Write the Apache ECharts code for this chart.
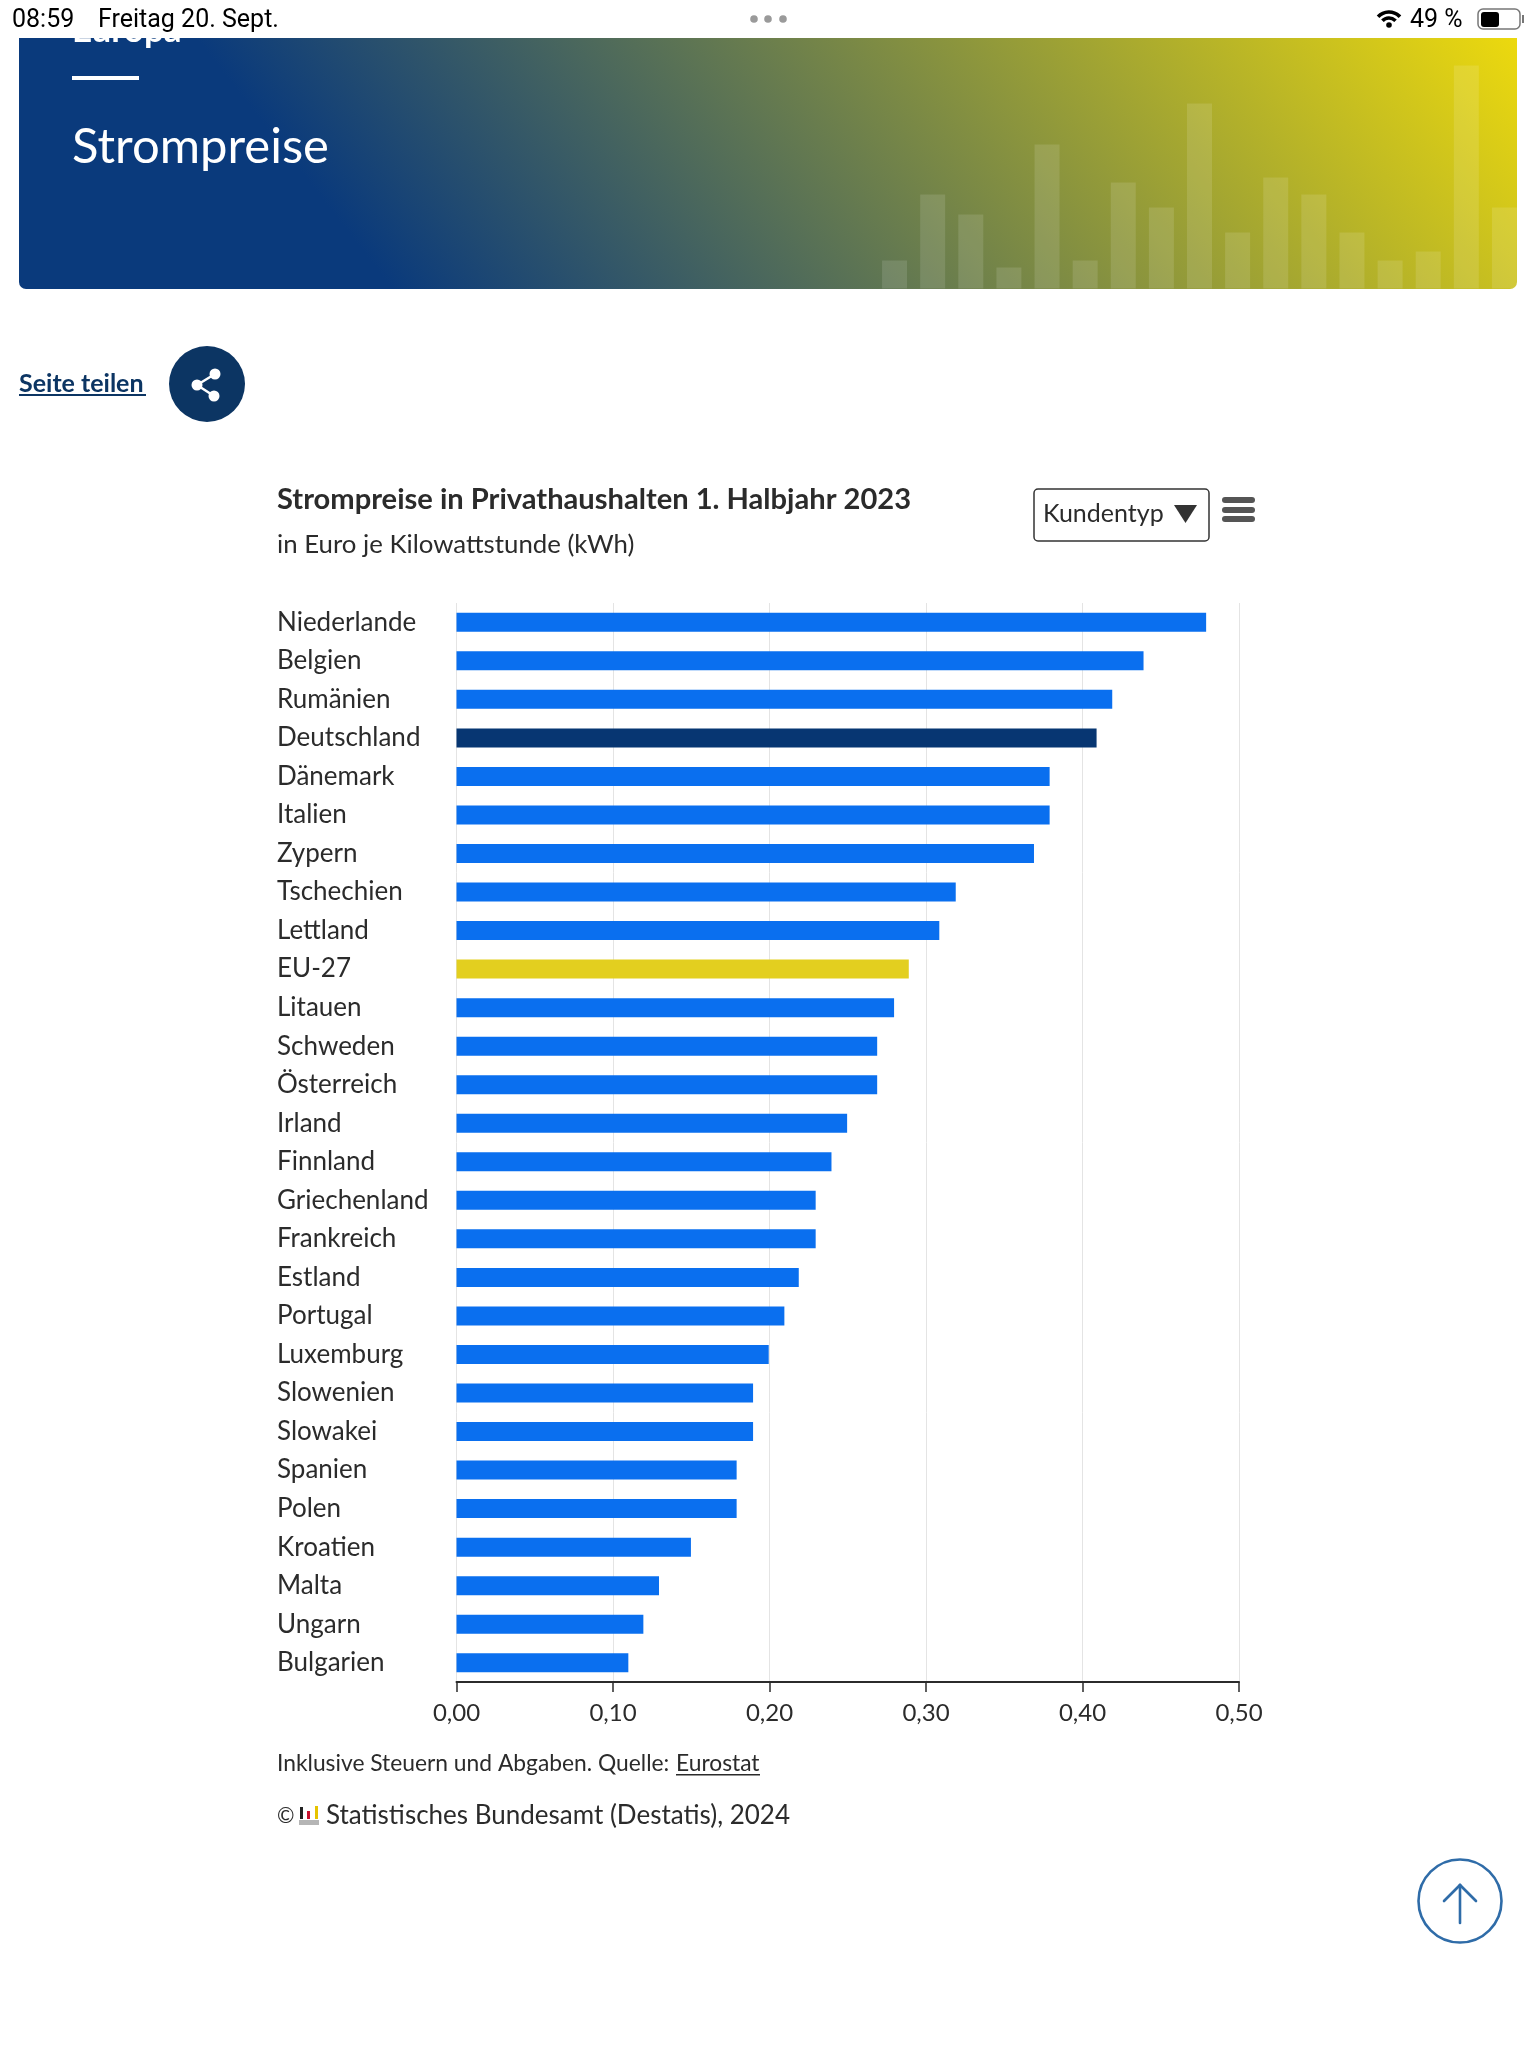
<!DOCTYPE html>
<html lang="de"><head><meta charset="utf-8"><title>Strompreise</title>
<style>html,body{margin:0;padding:0;background:#fff}#c{width:1536px;height:2048px}</style>
<script src="https://cdn.jsdelivr.net/npm/echarts@6/dist/echarts.min.js"></script></head>
<body><div id="c"></div>
<script>
const countries = ["Niederlande","Belgien","Rumänien","Deutschland","Dänemark","Italien","Zypern","Tschechien","Lettland","EU-27","Litauen","Schweden","Österreich","Irland","Finnland","Griechenland","Frankreich","Estland","Portugal","Luxemburg","Slowenien","Slowakei","Spanien","Polen","Kroatien","Malta","Ungarn","Bulgarien"];
const prices = [0.479,0.439,0.419,0.409,0.379,0.379,0.369,0.319,0.3085,0.289,0.2796,0.2688,0.2688,0.2496,0.2396,0.2295,0.2295,0.2187,0.2095,0.1995,0.1895,0.1895,0.179,0.179,0.1498,0.1294,0.1194,0.1098];
const bannerBarValues = [28,94,74,21,144,28,106,81,185,56,111,94,56,28,37,223,81];
const bannerBarSlots = bannerBarValues.map((_, i) => i + 1);
const highlightColors = {"Deutschland":"#073672","EU-27":"#e3cf1f"};
const BAR = "#0a6fef", NAVY = "#0c3563", TXT = "#2b2b2b", F = "Lato, 'Noto Sans', sans-serif", SYS = "Roboto, 'Liberation Sans', sans-serif";

const t = (x, y, text, size, o = {}) => ({type:"text", z:o.z||10, x, y, style:{text, fontSize:size, fontFamily:o.family||F, fontWeight:o.weight||"normal", fill:o.fill||TXT, align:o.align||"left", verticalAlign:"middle"}});
const r = (x, y, width, height, fill, z = 10, radius = 0) => ({type:"rect", z, shape:{x, y, width, height, r:radius}, style:{fill}});
const line = (x1, y1, x2, y2, stroke, lineWidth, z = 10) => ({type:"line", z, shape:{x1,y1,x2,y2}, style:{stroke, lineWidth, lineCap:"round"}});
const circle = (cx, cy, radius, style, z = 10) => ({type:"circle", z, shape:{cx, cy, r:radius}, style});
const arc = (cx, cy, radius) => ({type:"arc", z:10, shape:{cx, cy, r:radius, startAngle:-Math.PI*0.76, endAngle:-Math.PI*0.24}, style:{stroke:"#000", lineWidth:3.6, fill:null, lineCap:"butt"}});

const graphics = [
  {type:"rect", z:0, shape:{x:19, y:20, width:1498, height:269, r:7},
   style:{fill:{type:"linear", global:true, x:196, y:38, x2:1014, y2:-603,
     colorStops:[{offset:0,color:"#0a3a7c"},{offset:1,color:"#ecd90e"}]}}},
  t(72, 31, "Europa", 35, {fill:"#fff", weight:"bold", z:1}),
  r(0, 0, 1536, 38, "#fff", 5),
  r(72, 76, 67, 4, "#fff"),
  t(72, 147, "Strompreise", 49, {fill:"#fff"}),
  t(12, 21, "08:59", 25, {family:SYS, fill:"#000"}),
  t(98, 21, "Freitag 20. Sept.", 25, {family:SYS, fill:"#000"}),
  circle(754, 19, 3.8, {fill:"#9a9a9a"}), circle(768, 19, 3.8, {fill:"#9a9a9a"}), circle(783, 19, 3.8, {fill:"#9a9a9a"}),
  arc(1389, 27, 15), arc(1389, 27, 9), circle(1389, 25, 2.8, {fill:"#000"}),
  t(1410, 21, "49 %", 25, {family:SYS, fill:"#000"}),
  {type:"rect", z:10, shape:{x:1478, y:9, width:42, height:20, r:5}, style:{fill:"#fff", stroke:"#777", lineWidth:1.5}},
  r(1481, 12, 18, 15, "#000", 11, 3),
  r(1522, 15, 2, 8, "#777"),
  t(19, 384, "Seite teilen", 25, {fill:NAVY, weight:"bold"}),
  r(19, 394, 127, 2, NAVY),
  circle(207, 384, 38, {fill:NAVY}),
  line(197, 385, 215, 374, "#fff", 2.5, 11), line(197, 385, 214, 396, "#fff", 2.5, 11),
  circle(197, 385, 5.5, {fill:"#fff"}, 11), circle(215, 374, 5.5, {fill:"#fff"}, 11), circle(214, 396, 5.5, {fill:"#fff"}, 11),
  t(277, 500, "Strompreise in Privathaushalten 1. Halbjahr 2023", 29.1, {weight:"bold"}),
  t(277, 545, "in Euro je Kilowattstunde (kWh)", 25.8),
  {type:"rect", z:10, shape:{x:1034, y:489, width:175, height:52, r:4}, style:{fill:"#fff", stroke:"#333", lineWidth:1.5}},
  t(1043, 514, "Kundentyp", 25),
  {type:"polygon", z:11, shape:{points:[[1174,505],[1197,505],[1185.5,523]]}, style:{fill:"#333"}},
  r(1222, 497, 33, 6, "#555", 10, 3), r(1222, 507, 33, 6, "#555", 10, 3), r(1222, 516, 33, 6, "#555", 10, 3),
  t(277, 1764, "Inklusive Steuern und Abgaben. Quelle: ", 22.8),
  t(676, 1764, "Eurostat", 22.8),
  r(676, 1774, 84, 1.5, TXT),
  t(277, 1816, "©", 21),
  r(300, 1807, 3, 12, "#222"), r(307, 1811, 3, 8, "#c8102e"), r(315, 1806, 3, 13, "#e6c300"), r(299, 1820, 20, 5, "#b5b5b5"),
  t(326, 1816, "Statistisches Bundesamt (Destatis), 2024", 26),
  circle(1460, 1901, 41.5, {fill:"#fff", stroke:"#2f6ca8", lineWidth:2.6}),
  line(1460, 1885, 1460, 1923, "#2f6ca8", 2.6), line(1444, 1901, 1460, 1885, "#2f6ca8", 2.6), line(1476, 1901, 1460, 1885, "#2f6ca8", 2.6)
];

const chart = echarts.init(document.getElementById("c"), null, {renderer:"canvas"});
chart.setOption({
  animation:false,
  backgroundColor:"#fff",
  grid:[
    {left:456.5, right:297, top:603, bottom:366},
    {left:875.5, right:12.5, top:38, bottom:1759.5}
  ],
  xAxis:[
    {type:"value", gridIndex:0, min:0, max:0.5, interval:0.1,
     axisLine:{show:true, lineStyle:{color:"#2b2b2b", width:2}},
     axisTick:{show:true, length:10, lineStyle:{color:"#2b2b2b", width:1.5}},
     splitLine:{show:true, lineStyle:{color:"#e4e4e4", width:1}},
     axisLabel:{formatter:v => v.toFixed(2).replace(".", ","), fontFamily:F, fontSize:24, color:TXT, margin:19}},
    {type:"category", gridIndex:1, data:bannerBarSlots, show:false}
  ],
  yAxis:[
    {type:"category", gridIndex:0, inverse:true, data:countries,
     axisLine:{show:false}, axisTick:{show:false}, splitLine:{show:false},
     axisLabel:{align:"left", margin:179.5, fontFamily:F, fontSize:26, color:TXT, interval:0, padding:[5,0,0,0]}},
    {type:"value", gridIndex:1, min:0, max:250.5, show:false, splitLine:{show:false}}
  ],
  series:[
    {type:"bar", xAxisIndex:0, yAxisIndex:0, barWidth:19, silent:true,
     data:prices.map((value, i) => ({value, itemStyle:{color:highlightColors[countries[i]] || BAR}}))},
    {type:"bar", xAxisIndex:1, yAxisIndex:1, barWidth:25, silent:true, z:3,
     itemStyle:{color:"rgba(255,255,255,0.12)"}, data:bannerBarValues}
  ],
  graphic:{elements:graphics}
});
</script></body></html>
